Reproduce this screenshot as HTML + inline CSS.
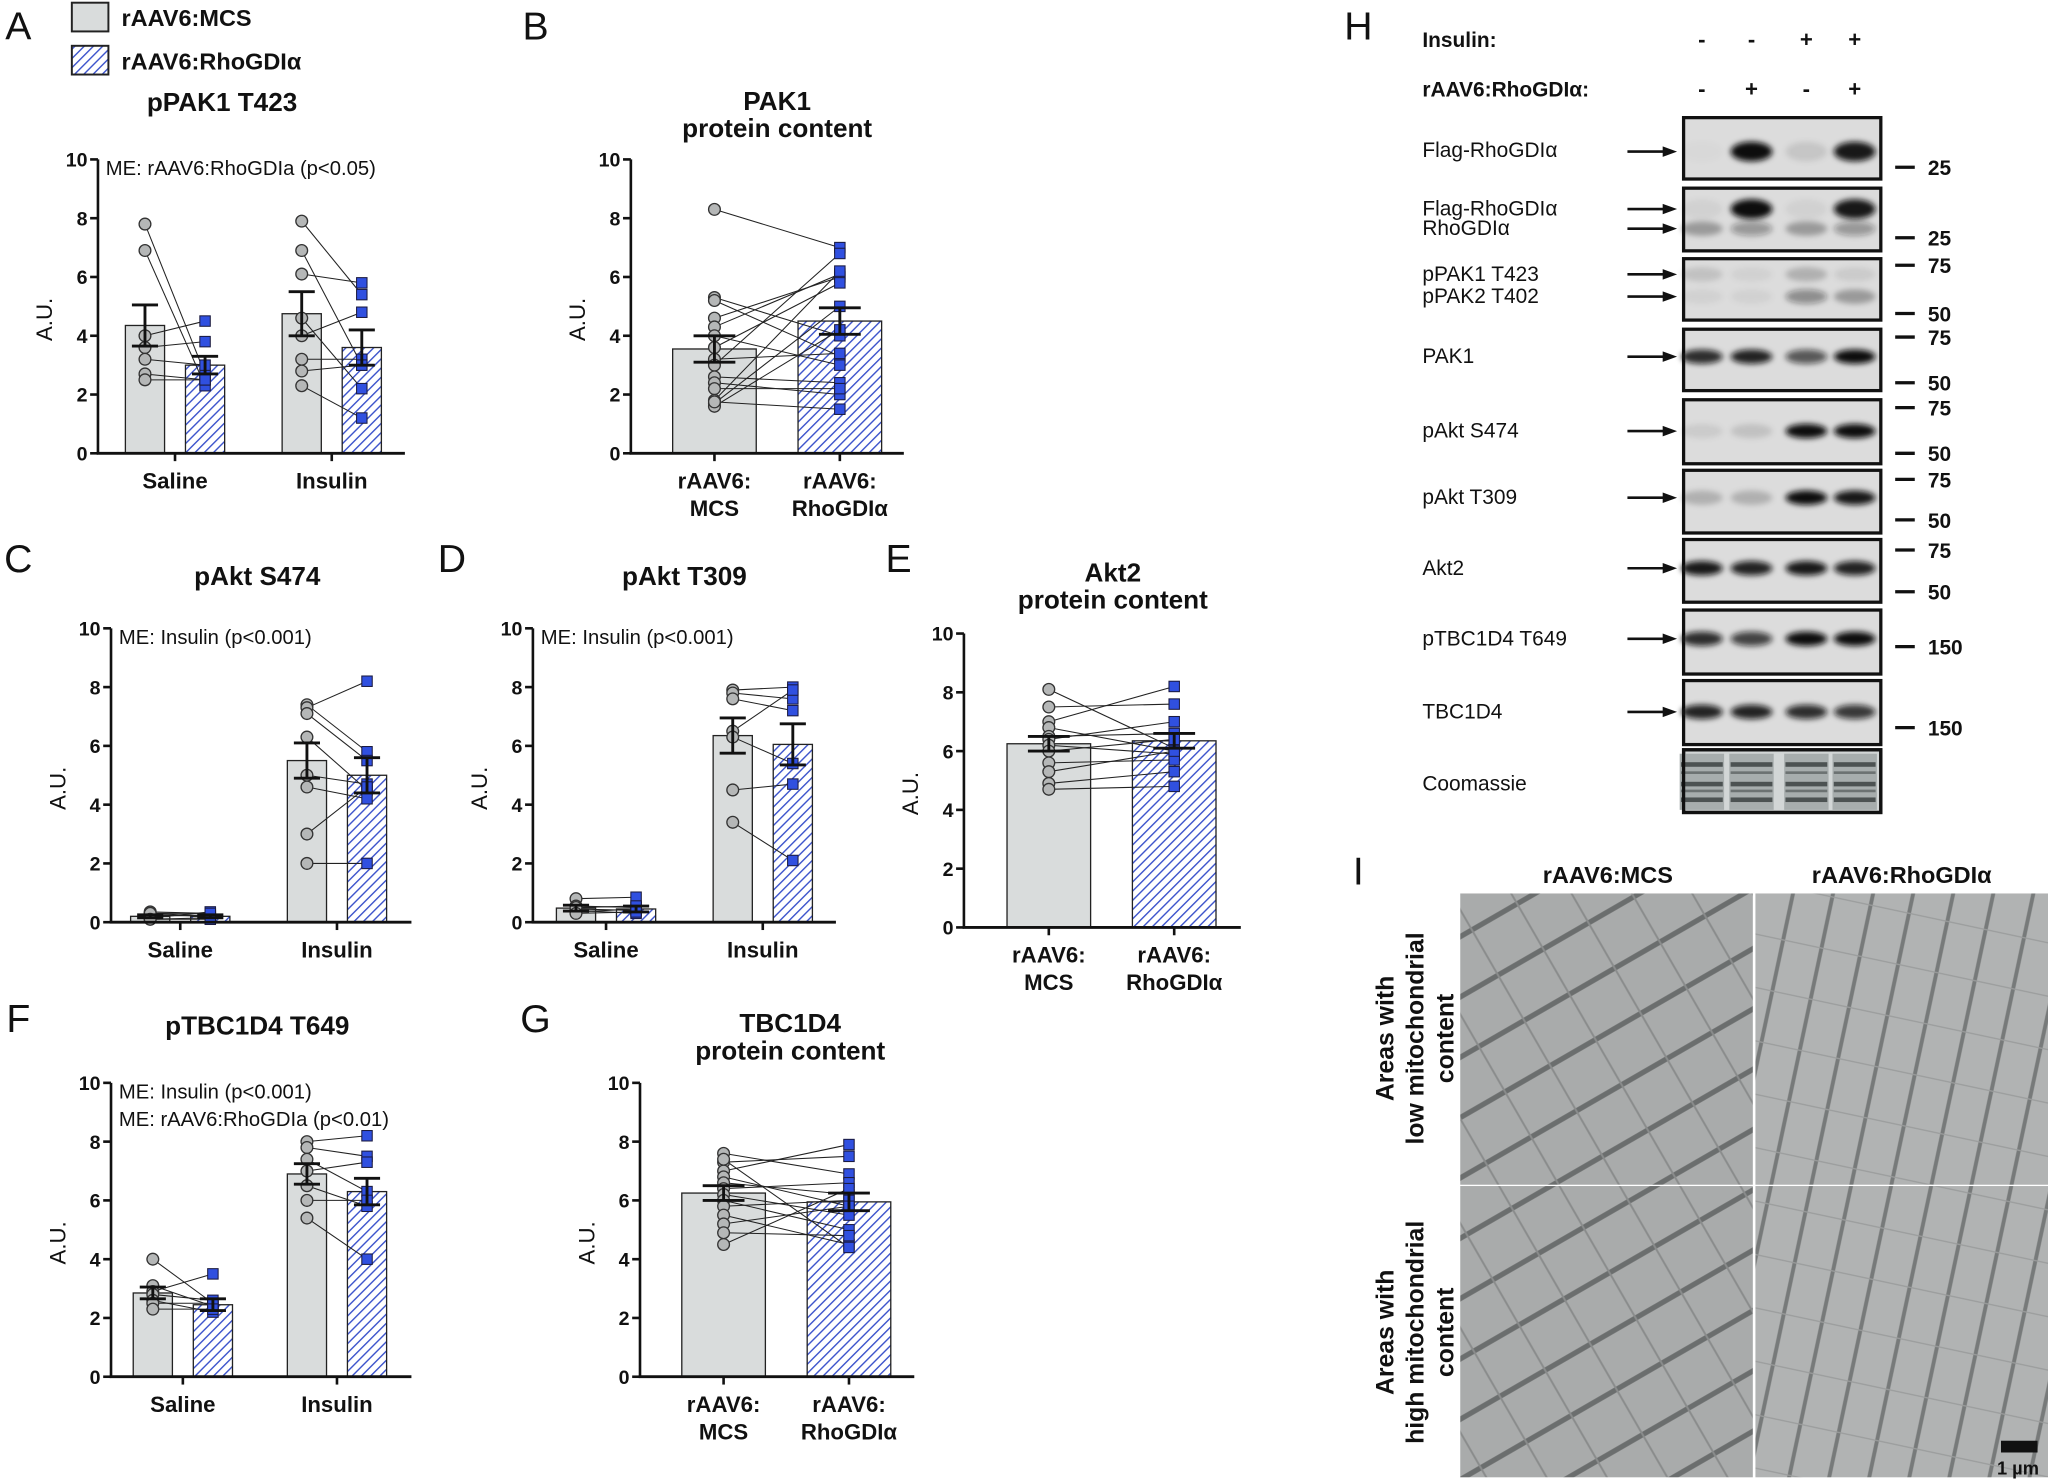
<!DOCTYPE html>
<html><head><meta charset="utf-8"><title>Figure</title>
<style>
html,body{margin:0;padding:0;background:#fff;}
svg{display:block;}
text{font-family:"Liberation Sans",sans-serif;fill:#111;}
</style></head>
<body>
<svg id="fig" xmlns="http://www.w3.org/2000/svg" width="2048" height="1480" viewBox="0 0 1568 1133">
<defs>
<pattern id="hatch" patternUnits="userSpaceOnUse" width="5" height="5" patternTransform="rotate(45)">
<rect width="5" height="5" fill="#fff"/><line x1="0" y1="0" x2="0" y2="5" stroke="#3f56cc" stroke-width="2.2"/>
</pattern>
<pattern id="em1" patternUnits="userSpaceOnUse" width="40" height="40" patternTransform="rotate(-30)">
<rect width="40" height="40" fill="#a9abab"/><line x1="0" y1="20" x2="40" y2="20" stroke="#6b6e6e" stroke-width="4"/><line x1="20" y1="0" x2="20" y2="40" stroke="#8a8c8c" stroke-width="1.5"/>
</pattern>
<pattern id="em2" patternUnits="userSpaceOnUse" width="30" height="40" patternTransform="rotate(12)">
<rect width="30" height="40" fill="#b1b3b3"/><line x1="15" y1="0" x2="15" y2="40" stroke="#777a7a" stroke-width="3"/><line x1="0" y1="20" x2="30" y2="20" stroke="#9a9c9c" stroke-width="1"/>
</pattern>
<filter id="blur" x="-50%" y="-200%" width="200%" height="500%"><feGaussianBlur stdDeviation="2.2"/></filter>
</defs>
<g id="charts"></g>
<g id="blot"></g>
<g id="em"></g>
</svg>
<script>
// ---------- chart data ----------
const yTicks = [0,2,4,6,8,10];
const catsSI = ["Saline","Insulin"];
// Panel A pPAK1 T423
const A_mean = [[4.35,3.0],[4.75,3.6]];
const A_sem = [[0.7,0.3],[0.75,0.6]];
const A_mcs = [[7.8,6.9,4.0,3.6,3.2,2.7,2.5],[7.9,6.9,6.1,4.6,4.0,3.2,2.8,2.3]];
const A_rho = [[2.7,2.3,4.5,3.8,3.0,2.5,2.5],[5.4,3.0,5.8,2.2,4.8,3.2,3.0,1.2]];
// Panel B PAK1
const B_mean = [[3.55,4.5]];
const B_sem = [[0.45,0.45]];
const B_mcs = [[8.3,5.3,5.2,4.6,4.3,4.0,3.6,3.2,3.0,2.6,2.4,2.2,1.8,1.7,1.6,1.75]];
const B_rho = [[7.0,4.0,3.3,6.0,6.1,3.0,5.8,3.4,6.8,2.4,2.0,2.2,6.2,5.0,4.2,1.5]];
// Panel C pAkt S474
const C_mean = [[0.2,0.2],[5.5,5.0]];
const C_sem = [[0.05,0.05],[0.6,0.6]];
const C_mcs = [[0.35,0.25,0.15,0.1,0.3,0.2,0.3,0.1],[7.4,7.3,7.1,6.3,5.0,4.6,3.0,2.0]];
const C_rho = [[0.3,0.2,0.35,0.15,0.2,0.25,0.3,0.1],[5.8,8.2,5.5,4.5,4.7,4.2,4.6,2.0]];
// Panel D pAkt T309
const D_mean = [[0.48,0.45],[6.35,6.05]];
const D_sem = [[0.1,0.1],[0.6,0.7]];
const D_mcs = [[0.8,0.55,0.45,0.4,0.35,0.5,0.3],[7.9,7.8,7.6,6.5,6.3,4.5,3.4]];
const D_rho = [[0.85,0.5,0.4,0.3,0.45,0.55,0.35],[8.0,7.6,7.2,7.9,5.4,4.7,2.1]];
// Panel E Akt2
const E_mean = [[6.25,6.35]];
const E_sem = [[0.25,0.25]];
const E_mcs = [[8.1,7.5,7.0,6.8,6.5,6.4,6.2,6.0,5.6,5.3,4.9,4.7]];
const E_rho = [[6.1,7.6,8.2,6.0,6.6,7.0,5.9,6.4,5.7,6.0,5.3,4.8]];
// Panel F pTBC1D4 T649
const F_mean = [[2.85,2.45],[6.9,6.3]];
const F_sem = [[0.2,0.2],[0.35,0.45]];
const F_mcs = [[4.0,3.1,2.9,2.8,2.6,2.5,2.3],[8.0,7.8,7.4,7.0,6.5,6.0,5.4]];
const F_rho = [[2.5,2.4,3.5,2.6,2.2,2.5,2.3],[8.2,7.5,6.3,7.3,5.8,6.0,4.0]];
// Panel G TBC1D4
const G_mean = [[6.25,5.95]];
const G_sem = [[0.25,0.3]];
const G_mcs = [[7.6,7.3,7.0,6.8,6.6,6.4,6.2,6.0,5.8,5.5,5.2,4.9,4.5,7.4]];
const G_rho = [[6.9,7.5,7.9,5.8,6.2,6.6,5.5,5.0,6.0,4.5,5.8,4.8,6.4,4.4]];

const NS="http://www.w3.org/2000/svg";
function el(tag,parent){const e=document.createElementNS(NS,tag);parent.appendChild(e);return e;}
function set(e,o){for(const k in o)e.setAttribute(k,o[k]);return e;}
function txt(parent,x,y,s,size,opts){const t=el('text',parent);set(t,{x:x,y:y,'font-size':size,'text-anchor':(opts&&opts.anchor)||'middle'});if(opts&&opts.bold)t.setAttribute('font-weight','bold');if(opts&&opts.rot)t.setAttribute('transform','rotate(-90 '+x+' '+y+')');t.textContent=s;return t;}

const charts=document.getElementById('charts');

function panel(cfg){
  const g=el('g',charts);
  
  
  const y0=cfg.y0,y10=cfg.y10,ax=cfg.ax;
  const sy=v=>y0-(y0-y10)*v/10;
  cfg.title.forEach((t,i)=>{const e=txt(g,cfg.tx,cfg.ty+i*21,t,20,{bold:true});
    
    });
  cfg.mean.forEach((pair,ci)=>{
    const c0=cfg.cx[ci];
    const xs=[c0-cfg.off,c0+cfg.off];
    pair.forEach((m,si)=>{
      const r=el('rect',g);
      set(r,{x:xs[si]-cfg.bw/2,y:sy(m),width:cfg.bw,height:y0-sy(m),fill:si?'url(#hatch)':'#d9dcdc',stroke:'#222','stroke-width':1});
      
      
    });
    const a=cfg.mcs[ci],b=cfg.rho[ci];
    a.forEach((v,k)=>{const l=el('line',g);set(l,{x1:xs[0],y1:sy(v),x2:xs[1],y2:sy(b[k]),stroke:'#222','stroke-width':0.8});
      
      });
    a.forEach(v=>{const c=el('circle',g);set(c,{cx:xs[0],cy:sy(v),r:4.5,fill:'#b5b7b7',stroke:'#333','stroke-width':1});
      
      });
    b.forEach(v=>{const s=el('rect',g);set(s,{x:xs[1]-4,y:sy(v)-4,width:8,height:8,fill:'#3050e0',stroke:'#1a1a40','stroke-width':0.8});
      
      });
    pair.forEach((m,si)=>{
      const e=cfg.sem[ci][si];const x=xs[si];
      const p=el('path',g);
      set(p,{d:`M${x} ${sy(m-e)}V${sy(m+e)}M${x-cfg.cap} ${sy(m+e)}H${x+cfg.cap}M${x-cfg.cap} ${sy(m-e)}H${x+cfg.cap}`,stroke:'#111','stroke-width':2.2,fill:'none'});
      
      
    });
  });
  const yaxis=el('g',g);
  
  
  const ya=el('line',yaxis);set(ya,{x1:ax,y1:y0,x2:ax,y2:y10,stroke:'#111','stroke-width':2});
  yTicks.forEach(v=>{const t=el('line',yaxis);set(t,{x1:ax-6,y1:sy(v),x2:ax,y2:sy(v),stroke:'#111','stroke-width':2});
    const l=txt(yaxis,ax-8,sy(v)+5.5,String(v),15,{bold:true,anchor:'end'});
    
    });
  const yl=txt(g,ax-35,(y0+y10)/2+10,'A.U.',17,{rot:true});
  
  
  const xa=el('line',g);set(xa,{x1:ax-1,y1:y0,x2:cfg.xend,y2:y0,stroke:'#111','stroke-width':2.2});
  
  
  cfg.cats.forEach((c,i)=>{
    const x=cfg.tickX[i];
    const t=el('line',g);set(t,{x1:x,y1:y0,x2:x,y2:y0+6,stroke:'#111','stroke-width':2});
    c.split('\n').forEach((s,k)=>{const l=txt(g,x,y0+27+k*21,s,17,{bold:true});
      
      });
  });
  (cfg.notes||[]).forEach((n,i)=>{const t=txt(g,ax+6,y10+12+i*21,n,15.5,{anchor:'start'});
    
    });
}
const catsRR=["rAAV6:\nMCS","rAAV6:\nRhoGDIα"];
panel({name:'panel-a-ppak1',title:['pPAK1 T423'],tx:170,ty:85,ax:75,y0:347,y10:122,cx:[134,254],off:23,bw:30,cap:10,xend:310,tickX:[134,254],cats:catsSI,mean:A_mean,sem:A_sem,mcs:A_mcs,rho:A_rho,notes:['ME: rAAV6:RhoGDIa (p<0.05)']});
panel({name:'panel-b-pak1',title:['PAK1','protein content'],tx:595,ty:84,ax:483,y0:347,y10:122,cx:[595],off:48,bw:64,cap:16,xend:692,tickX:[547,643],cats:catsRR,mean:B_mean,sem:B_sem,mcs:B_mcs,rho:B_rho});
panel({name:'panel-c-pakt-s474',title:['pAkt S474'],tx:197,ty:448,ax:85,y0:706,y10:481,cx:[138,258],off:23,bw:30,cap:10,xend:315,tickX:[138,258],cats:catsSI,mean:C_mean,sem:C_sem,mcs:C_mcs,rho:C_rho,notes:['ME: Insulin (p<0.001)']});
panel({name:'panel-d-pakt-t309',title:['pAkt T309'],tx:524,ty:448,ax:408,y0:706,y10:481,cx:[464,584],off:23,bw:30,cap:10,xend:640,tickX:[464,584],cats:catsSI,mean:D_mean,sem:D_sem,mcs:D_mcs,rho:D_rho,notes:['ME: Insulin (p<0.001)']});
panel({name:'panel-e-akt2',title:['Akt2','protein content'],tx:852,ty:445,ax:738,y0:710,y10:485,cx:[851],off:48,bw:64,cap:16,xend:950,tickX:[803,899],cats:catsRR,mean:E_mean,sem:E_sem,mcs:E_mcs,rho:E_rho});
panel({name:'panel-f-ptbc1d4',title:['pTBC1D4 T649'],tx:197,ty:792,ax:85,y0:1054,y10:829,cx:[140,258],off:23,bw:30,cap:10,xend:315,tickX:[140,258],cats:catsSI,mean:F_mean,sem:F_sem,mcs:F_mcs,rho:F_rho,notes:['ME: Insulin (p<0.001)','ME: rAAV6:RhoGDIa (p<0.01)']});
panel({name:'panel-g-tbc1d4',title:['TBC1D4','protein content'],tx:605,ty:790,ax:490,y0:1054,y10:829,cx:[602],off:48,bw:64,cap:16,xend:700,tickX:[554,650],cats:catsRR,mean:G_mean,sem:G_sem,mcs:G_mcs,rho:G_rho});

[['A',14,30],['B',410,30],['C',14,438],['D',346,438],['E',688,438],['F',14,790],['G',410,790],['H',1040,30],['I',1040,677]].forEach(p=>{
  const t=txt(charts,p[1],p[2],p[0],30,{});
  
  
});
const lg=el('g',charts);


[['#d9dcdc','rAAV6:MCS',2],['url(#hatch)','rAAV6:RhoGDIα',35]].forEach(l=>{
  const r=el('rect',lg);set(r,{x:55,y:l[2],width:28,height:22,fill:l[0],stroke:'#222','stroke-width':1.5});
  
  
  const t=txt(lg,93,l[2]+18,l[1],18,{bold:true,anchor:'start'});
  
  
});

// ---------- blot ----------
const blot=document.getElementById('blot');
const laneX=[1303,1341,1383,1420];
const insulinSigns=['-','-','+','+'];
const rhoSigns=['-','+','-','+'];
const rowLabels=[['Flag-RhoGDIα'],['Flag-RhoGDIα','RhoGDIα'],['pPAK1 T423','pPAK2 T402'],['PAK1'],['pAkt S474'],['pAkt T309'],['Akt2'],['pTBC1D4 T649'],['TBC1D4'],['Coomassie']];
const rowTop=[90,144,198,252,306,360,413,467,521,574];
const rowBot=[137,192,245,299,355,408,461,516,570,622];
const bandY=[[116],[160,175],[210,227],[273],[330],[381],[435],[489],[545],[]];
const bandI=[[[0.02,1,0.1,0.95]],[[0.05,1,0.05,0.95],[0.3,0.35,0.3,0.35]],[[0.12,0.05,0.2,0.08],[0.05,0.05,0.4,0.3]],[[0.85,0.9,0.65,1]],[[0.08,0.12,1,1]],[[0.2,0.2,1,0.95]],[[0.95,0.9,0.95,0.9]],[[0.85,0.75,1,1]],[[0.9,0.9,0.85,0.8]],[]];
const mw=[[['25',128]],[['25',182]],[['75',203],['50',240]],[['75',258],['50',293]],[['75',312],['50',347]],[['75',367],['50',398]],[['75',421],['50',453]],[['150',495]],[['150',557]],[]];
txt(blot,1089,36,'Insulin:',16,{bold:true,anchor:'start'});
txt(blot,1089,74,'rAAV6:RhoGDIα:',16,{bold:true,anchor:'start'});
laneX.forEach((x,i)=>{txt(blot,x,36,insulinSigns[i],17,{bold:true});txt(blot,x,74,rhoSigns[i],17,{bold:true});});
rowLabels.forEach((lab,r)=>{
  const g=el('g',blot);
  
  
  const box=el('rect',g);set(box,{x:1289,y:rowTop[r],width:151,height:rowBot[r]-rowTop[r],fill:r==9?'#d2d6d6':'#dcdcdc',stroke:'#111','stroke-width':2.5});
  if(r==9){laneX.forEach(x=>{
    const lb=el('rect',g);set(lb,{x:x-17,y:577,width:34,height:43,fill:'#a7adad'});
    [585,592,600,606,612].forEach((y,k)=>{const b=el('rect',g);set(b,{x:x-16,y:y-1.5,width:32,height:k%2?2:3.5,fill:'#3c4242','fill-opacity':k%2?0.55:0.85});});
  });
  const bx=el('rect',g);set(bx,{x:1289,y:574,width:151,height:48,fill:'none',stroke:'#111','stroke-width':2.5});}
  bandY[r].forEach((by,k)=>{
    bandI[r][k].forEach((v,li)=>{const e=el('ellipse',g);set(e,{cx:laneX[li],cy:by,rx:16,ry:r<2&&k==0?7.5:5.5,fill:'#111','fill-opacity':v,filter:'url(#blur)'});});
  });
  const ly=lab.length==1?(r==0?120:(bandY[r][0]||600)+5):null;
  lab.forEach((s,k)=>{const t=txt(g,1089,lab.length==1?ly:(bandY[r][k]+5),s,16,{anchor:'start'});
    
    });
  bandY[r].forEach(by=>{const a=el('path',g);set(a,{d:`M1246 ${by}H1276`,stroke:'#111','stroke-width':2});const h=el('path',g);set(h,{d:`M1284 ${by}L1273 ${by-4}L1273 ${by+4}Z`,fill:'#111'});});
  mw[r].forEach(m=>{const l=el('line',g);set(l,{x1:1451,y1:m[1],x2:1466,y2:m[1],stroke:'#111','stroke-width':2.5});txt(g,1476,m[1]+6,m[0],16,{bold:true,anchor:'start'});});
});

// ---------- EM ----------
const em=document.getElementById('em');
txt(em,1231,676,'rAAV6:MCS',18,{bold:true});
txt(em,1456,676,'rAAV6:RhoGDIα',18,{bold:true});
[[1118,684,'em1'],[1344,684,'em2'],[1118,908,'em1'],[1344,908,'em2']].forEach((p,i)=>{
  const r=el('rect',em);set(r,{x:p[0],y:p[1],width:224,height:223,fill:'url(#'+p[2]+')'});
  
  
});
[['Areas with',1067,795],['low mitochondrial',1090,795],['content',1113,795],['Areas with',1067,1020],['high mitochondrial',1090,1020],['content',1113,1020]].forEach(l=>{txt(em,l[1],l[2],l[0],19,{bold:true,rot:true});});
const sb=el('rect',em);set(sb,{x:1532,y:1103,width:28,height:9,fill:'#111'});


txt(em,1545,1129,'1 µm',14,{bold:true});
</script>
</body></html>
